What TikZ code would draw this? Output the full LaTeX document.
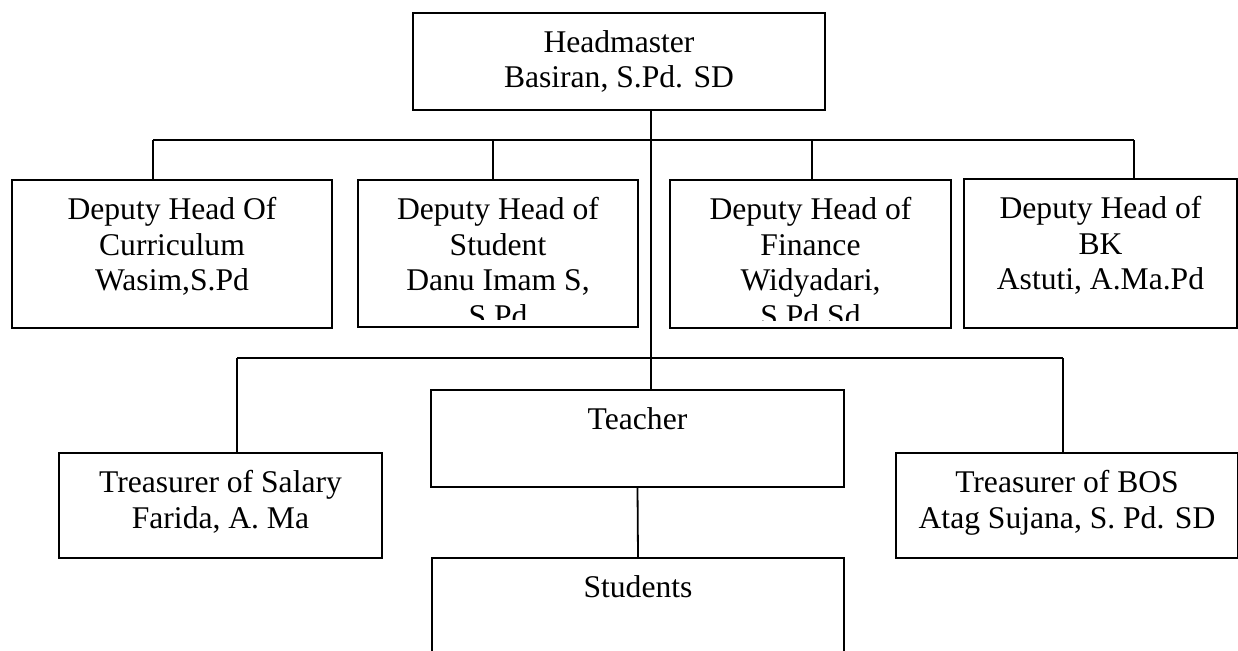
\documentclass[tikz,border=0pt]{standalone}
\usepackage{fontspec}
\setmainfont{Liberation Serif}
\newcommand\orgfont{\fontsize{31.6}{35.8}\selectfont}
\newcommand\firstgap{\rule{0pt}{40pt}}
\tikzset{
  orgbox/.style={draw, line width=2pt, inner sep=0pt, anchor=north west},
  orgtext/.style={anchor=north, align=center, inner sep=0pt, font=\orgfont},
  link/.style={line width=1.8pt}
}
\begin{document}
\begin{tikzpicture}[x=1pt, y=-1pt]
    \clip (0,0) rectangle (1238,650);
    \fill[white] (0,0) rectangle (1238,650);
    % boxes
    \node[orgbox, minimum width=412pt, minimum height=97pt] (head) at (412,12) {};
    \node[orgbox, minimum width=320pt, minimum height=148pt] (cur) at (11,179) {};
    \node[orgbox, minimum width=280pt, minimum height=147pt] (stu) at (357,179) {};
    \node[orgbox, minimum width=281pt, minimum height=148pt] (fin) at (669,179) {};
    \node[orgbox, minimum width=273pt, minimum height=149pt] (bk) at (963,178) {};
    \node[orgbox, minimum width=413pt, minimum height=97pt] (teach) at (430,389) {};
    \node[orgbox, minimum width=323pt, minimum height=105pt] (sal) at (58,452) {};
    \node[orgbox, minimum width=342pt, minimum height=105pt] (bos) at (895,452) {};
    \node[orgbox, minimum width=412pt, minimum height=130pt] (pupils) at (431,557) {};
    % texts
    \node[orgtext] (head-t) at (head.north) {\firstgap Headmaster\\Basiran, S.Pd. SD};
    \node[orgtext] (cur-t) at (cur.north) {\firstgap Deputy Head Of\\Curriculum\\Wasim,S.Pd};
    \node[orgtext] (bk-t) at (bk.north) {\firstgap Deputy Head of\\BK\\Astuti, A.Ma.Pd};
    \node[orgtext] (teach-t) at (teach.north) {\firstgap Teacher};
    \node[orgtext] (sal-t) at (sal.north) {\firstgap Treasurer of Salary\\Farida, A. Ma};
    \node[orgtext] (bos-t) at (bos.north) {\firstgap Treasurer of BOS\\Atag Sujana, S. Pd. SD};
    \node[orgtext] (pupils-t) at (pupils.north) {\firstgap Students};
    % the last line runs out of these two boxes
    \begin{scope}
        \clip (stu.north west) rectangle ([yshift=9pt]stu.south east);
        \node[orgtext] (stu-t) at (stu.north) {\firstgap Deputy Head of\\Student\\Danu Imam S,\\S.Pd};
    \end{scope}
    \begin{scope}
        \clip (fin.north west) rectangle ([yshift=9pt]fin.south east);
        \node[orgtext] (fin-t) at (fin.north) {\firstgap Deputy Head of\\Finance\\Widyadari,\\S.Pd.Sd};
    \end{scope}
    % connectors
    \coordinate (spine) at (651,0);
    \coordinate (busL) at (153,140);
    \coordinate (busR) at (1134,140);
    \coordinate (busL2) at (237,358);
    \coordinate (busR2) at (1063,358);
    \draw[link] (head.south -| spine) -- (teach.north -| spine);
    \draw[link] (busL) -- (busR);
    \foreach \n/\x in {cur/153, stu/493, fin/812, bk/1134}
        \draw[link] (\n.north -| \x,0) -- (busL -| \x,0);
    \draw[link] (busL2) -- (busR2);
    \draw[link] (sal.north -| busL2) -- (busL2);
    \draw[link] (bos.north -| busR2) -- (busR2);
    \draw[link] (teach.south) -- (pupils.north);
\end{tikzpicture}
\end{document}
